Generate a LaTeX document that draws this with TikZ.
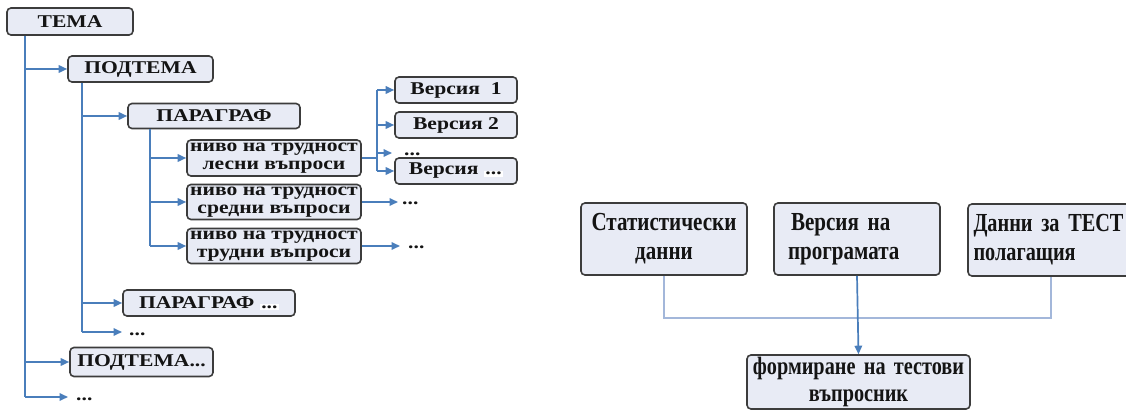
\documentclass[tikz,border=0pt]{standalone}
\usepackage{fontspec}
\setmainfont{Liberation Serif}
\newfontfamily\Lfont[FakeStretch=1.2]{Liberation Serif}
\newfontfamily\Rfont[FakeStretch=0.81]{Liberation Serif}
\newfontfamily\Rfontn[FakeStretch=0.78]{Liberation Serif}
\usetikzlibrary{arrows.meta}
\definecolor{boxfill}{RGB}{232,235,245}
\definecolor{boxline}{RGB}{60,60,60}
\definecolor{conncol}{RGB}{74,126,187}
\definecolor{connlight}{RGB}{163,183,218}
\definecolor{ink}{RGB}{20,20,20}
\setlength{\fboxsep}{1.5pt}
\newcommand{\dotsdown}{\raisebox{-3pt}{...}}
\begin{document}
\begin{tikzpicture}[x=1pt,y=-1pt,
  box/.style={draw=boxline, line width=1.6pt, fill=boxfill, rounded corners=4pt, inner sep=0pt, text=ink},
  lbox/.style={box, font=\Lfont\bfseries\fontsize{18}{18}\selectfont, align=center},
  rbox/.style={box, font=\Rfont\bfseries\fontsize{26}{29}\selectfont, minimum width=166pt, minimum height=72pt},
  conn/.style={draw=conncol, line width=1.7pt},
  arr/.style={conn, -{Triangle[length=8.5pt,width=7.5pt]}},
  ellip/.style={inner xsep=#1, inner ysep=0pt, text height=0pt, text depth=0pt, anchor=west, text=ink, font=\Lfont\bfseries\fontsize{18}{18}\selectfont},
]
\useasboundingbox (0,0) rectangle (1126,411);
\clip (0,0) rectangle (1126,411);

% ---------- left tree ----------
\node[lbox, minimum width=126pt, minimum height=27pt] (tema) at (70,21.5) {ТЕМА};
\node[lbox, minimum width=145pt, minimum height=26pt] (pt1) at (140.5,69) {ПОДТЕМА};
\node[lbox, minimum width=172pt, minimum height=25pt] (par1) at (214,116) {ПАРАГРАФ};
\node[lbox, minimum width=174pt, minimum height=36pt] (lv1) at (274,158) {ниво на трудност\\лесни въпроси};
\node[lbox, minimum width=174pt, minimum height=35pt] (lv2) at (274,202) {ниво на трудност\\средни въпроси};
\node[lbox, minimum width=174pt, minimum height=35pt] (lv3) at (274,246) {ниво на трудност\\трудни въпроси};
\node[lbox, minimum width=122pt, minimum height=26pt] (v1) at (456,90) {Версия\ \ 1};
\node[lbox, minimum width=122pt, minimum height=26pt] (v2) at (456,125) {Версия 2};
\node[lbox, minimum width=122pt, minimum height=26pt] (v3) at (456,171) {Версия \colorbox{white}{...}};
\node[lbox, minimum width=172pt, minimum height=26pt] (par2) at (209,303) {ПАРАГРАФ \colorbox{white}{...}};
\node[lbox, minimum width=143pt, minimum height=29pt] (pt2) at (141.5,362) {ПОДТЕМА...};

\node[ellip=12pt] (d1) at (392,153) {\dotsdown};
\node[ellip=4pt] (d2) at (398,202) {\dotsdown};
\node[ellip=8pt] (d3) at (400,246) {\dotsdown};
\node[ellip=7pt] (d4) at (122,332) {\dotsdown};
\node[ellip=8pt] (d5) at (68,397) {\dotsdown};

\coordinate (x0) at (25,0);
\coordinate (x1) at (82,0);
\coordinate (x2) at (150,0);
\coordinate (x3) at (377,0);

% main trunk
\draw[conn] (tema.south -| x0) -- (d5.west -| x0);
\draw[arr] (pt1.west -| x0) -- (pt1.west);
\draw[arr] (pt2.west -| x0) -- (pt2.west);
\draw[arr] (d5.west -| x0) -- (d5.west);
% sub trunk
\draw[conn] (pt1.south -| x1) -- (d4.west -| x1);
\draw[arr] (par1.west -| x1) -- (par1.west);
\draw[arr] (par2.west -| x1) -- (par2.west);
\draw[arr] (d4.west -| x1) -- (d4.west);
% paragraph trunk
\draw[conn] (par1.south -| x2) -- (lv3.west -| x2);
\draw[arr] (lv1.west -| x2) -- (lv1.west);
\draw[arr] (lv2.west -| x2) -- (lv2.west);
\draw[arr] (lv3.west -| x2) -- (lv3.west);
% versions
\draw[conn] (lv1.east) -- (lv1.east -| x3);
\draw[conn] (v1.west -| x3) -- (v3.west -| x3);
\draw[arr] (v1.west -| x3) -- (v1.west);
\draw[arr] (v2.west -| x3) -- (v2.west);
\draw[arr] (d1.west -| x3) -- (d1.west);
\draw[arr] (v3.west -| x3) -- (v3.west);
\draw[arr] (lv2.east) -- (lv2.east -| d2.west);
\draw[arr] (lv3.east) -- (lv3.east -| d3.west);

% ---------- right diagram ----------
\node[rbox, text width=160pt, align=center] (stat) at (664,239) {Статистически\\данни};
\node[rbox, text width=138pt, align=left] (vers) at (857,239) {\hspace*{3pt}Версия на\\програмата};
\node[rbox, text width=155pt, align=left, font=\Rfontn\bfseries\fontsize{26}{29}\selectfont] (data) at (1051,240) {\mbox{Данни за ТЕСТ}\\полагащия};
\node[rbox, minimum width=223pt, minimum height=54pt, text width=217pt, align=center,
      font=\Rfont\bfseries\fontsize{25}{27}\selectfont] (form) at (858.5,382) {формиране на тестови\\въпросник};

\coordinate (yb) at (0,318);
\draw[conn, draw=connlight] (stat.south) -- (stat.south |- yb) -- (data.south |- yb) -- (data.south);
\draw[arr] (vers.south) -- (form.north);
\end{tikzpicture}
\end{document}
